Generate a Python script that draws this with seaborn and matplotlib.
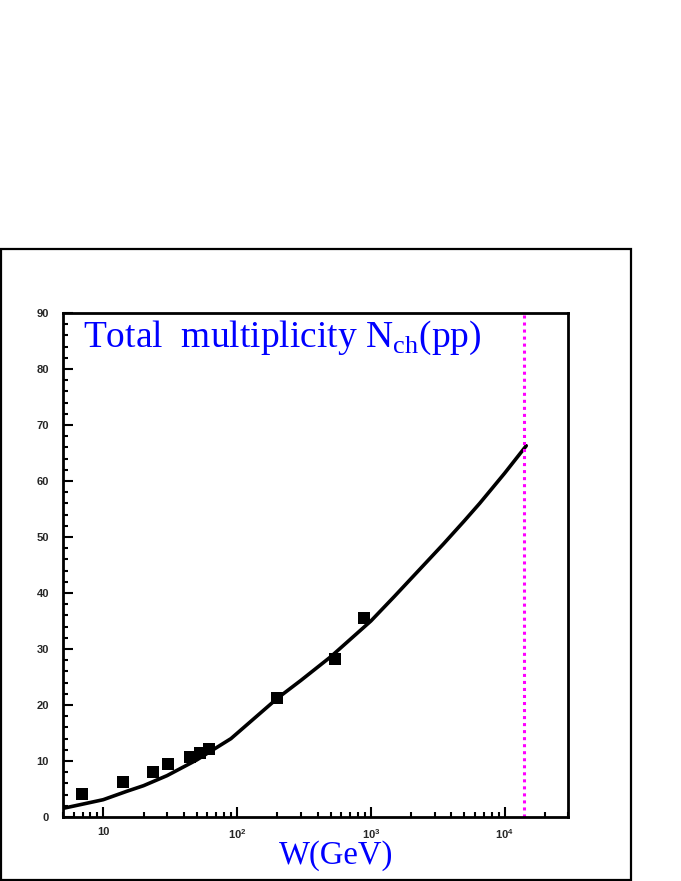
import math
import matplotlib
matplotlib.use('Agg')
import matplotlib.pyplot as plt
import matplotlib.ticker as mticker
from matplotlib.patches import Rectangle
import seaborn as sns

# measured charged multiplicities (pp / ppbar)
W_data = [6.9, 14.0, 23.5, 30.5, 44.5, 52.5, 62.0, 200, 540, 890]
N_data = [4.2, 6.3, 8.0, 9.4, 10.8, 11.5, 12.1, 21.3, 28.3, 35.5]

# model curve
W_fit = [5, 7, 10, 15, 20, 30, 50, 90, 200, 300, 500, 1000, 1500, 2600, 3500,
         5000, 6500, 8000, 10000, 14500]
N_fit = [1.55, 2.3, 3.1, 4.6, 5.6, 7.4, 10.2, 14.0, 21.2, 24.4, 28.6, 35.0, 39.4,
         45.5, 48.8, 52.9, 56.0, 58.6, 61.4, 66.3]

W_lhc = 14000

sns.set_style('white')
plt.rcParams['font.family'] = ['Liberation Sans', 'DejaVu Sans']
plt.rcParams['mathtext.fontset'] = 'custom'
plt.rcParams['mathtext.rm'] = 'Liberation Serif'
plt.rcParams['mathtext.bf'] = 'Liberation Sans:bold'

fig = plt.figure(figsize=(6.81, 8.81), dpi=100)
ax = fig.add_axes([0.0925, 0.0726, 0.7423, 0.5721])
ax.set_xscale('log')

sns.lineplot(x=W_fit, y=N_fit, ax=ax, color='black', lw=2.6)
sns.scatterplot(x=W_data, y=N_data, ax=ax, marker='s', s=70, color='black',
                edgecolor='black', linewidth=0, zorder=3)
ax.axvline(W_lhc, color='#ff00ff', lw=2.2, ls=(0, (1, 1.3)))

ax.set_xlim(5, 30000)
ax.set_ylim(0, 90)

# ticks
ax.yaxis.set_major_locator(mticker.MultipleLocator(10))
ax.yaxis.set_minor_locator(mticker.MultipleLocator(2))
ax.xaxis.set_major_locator(mticker.LogLocator(base=10))
ax.xaxis.set_minor_locator(mticker.LogLocator(base=10, subs=range(2, 10)))


def xfmt(v, pos):
    e = int(round(math.log10(v)))
    if e == 1:
        return '10'
    return r'$\mathbf{10}^{\mathbf{%d}}$' % e


ax.xaxis.set_major_formatter(mticker.FuncFormatter(xfmt))
ax.xaxis.set_minor_formatter(mticker.NullFormatter())
ax.tick_params(which='both', direction='in', bottom=True, left=True,
               top=False, right=False, labelsize=8, width=1.5, color='black')
ax.tick_params(which='major', length=7)
ax.tick_params(which='minor', length=3.5)
ax.tick_params(axis='y', pad=10)
ax.tick_params(axis='x', pad=7)
for lab in ax.get_xticklabels() + ax.get_yticklabels():
    lab.set_fontweight('bold')

for sp in ax.spines.values():
    sp.set_linewidth(2.0)
    sp.set_color('black')

ax.text(0.04, 0.9325, r'Total  multiplicity N$_{\mathrm{ch}}$(pp)',
        transform=ax.transAxes, va='baseline', ha='left',
        fontsize=27, color='#0000ff', family='Liberation Serif')

ax.set_xlabel('W(GeV)', fontsize=23.5, color='#0000ff', family='Liberation Serif')
ax.xaxis.set_label_coords(0.54, -0.045)
ax.set_ylabel('')

fig.add_artist(Rectangle((0.0015, 0.0012), 0.925, 0.7163, transform=fig.transFigure,
                         fill=False, lw=1.6, ec='black'))

fig.savefig('out.png', dpi=100)
